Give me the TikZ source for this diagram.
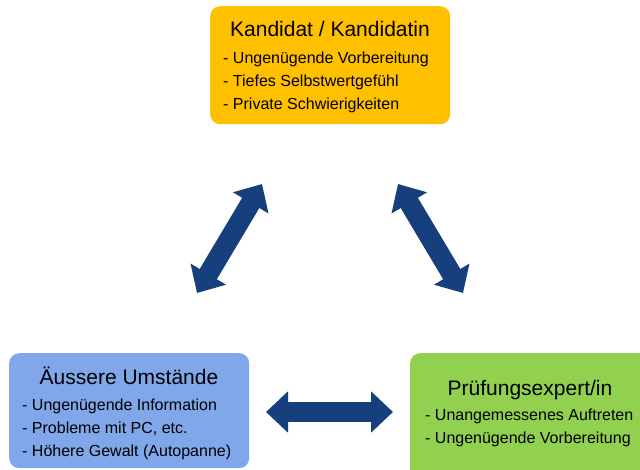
\documentclass[tikz,border=0pt]{standalone}
\usepackage{fontspec}
\setmainfont{Liberation Sans}
\usetikzlibrary{arrows.meta}
\definecolor{orangecadre}{HTML}{FFC000}
\definecolor{bleucadre}{HTML}{7FA7EA}
\definecolor{vertcadre}{HTML}{92D050}
\definecolor{bleufleche}{HTML}{173E7D}
\begin{document}
\begin{tikzpicture}[x=1pt,y=-1pt]
% Styles
\tikzstyle{cadre}=[rounded corners=10pt,inner sep=0pt,anchor=north west]
\tikzstyle{titre}=[font=\fontsize{21}{25}\selectfont,anchor=base,inner sep=0pt]
\tikzstyle{item}=[font=\fontsize{16}{20}\selectfont,anchor=base west,inner sep=0pt]
\tikzstyle{fleche}=[{Triangle[length=22pt,width=40pt]}-{Triangle[length=22pt,width=40pt]},line width=20pt,bleufleche]
% Dimensions
\def\Lrg{240pt}
\def\Ligne{23}
\clip (0,0) rectangle (640,469);
% Cadre : Kandidat
\node[cadre,fill=orangecadre,minimum width=\Lrg,minimum height=118pt] (kand) at (210,6) {};
\node[titre] (kandtitre) at (330,36) {Kandidat / Kandidatin};
\node[item] (kand1) at (223,63) {- Ungenügende Vorbereitung};
\node[item] (kand2) at (223,63+\Ligne) {- Tiefes Selbstwertgefühl};
\node[item] (kand3) at (223,63+2*\Ligne) {- Private Schwierigkeiten};
% Cadre : Umstände
\node[cadre,fill=bleucadre,minimum width=\Lrg,minimum height=115pt] (umst) at (9,353) {};
\node[titre] (umsttitre) at (129,384) {Äussere Umstände};
\node[item] (umst1) at (22,410) {- Ungenügende Information};
\node[item] (umst2) at (22,410+\Ligne) {- Probleme mit PC, etc.};
\node[item] (umst3) at (22,410+2*\Ligne) {- Höhere Gewalt (Autopanne)};
% Cadre : Experte
\node[cadre,fill=vertcadre,minimum width=250pt,minimum height=130pt] (expe) at (410,353) {};
\node[titre] (expetitre) at (530,395) {Prüfungsexpert/in};
\node[item] (expe1) at (425,420) {- Unangemessenes Auftreten};
\node[item] (expe2) at (425,420+\Ligne) {- Ungenügende Vorbereitung};
% Fleches
\coordinate (fga) at (262,184);
\coordinate (fgb) at (197,293);
\coordinate (fda) at (398,184);
\coordinate (fdb) at (463,293);
\coordinate (fba) at (266,412);
\coordinate (fbb) at (393,412);
\draw[fleche] (fga) -- (fgb);
\draw[fleche] (fda) -- (fdb);
\draw[fleche] (fba) -- (fbb);
\end{tikzpicture}
\end{document}
